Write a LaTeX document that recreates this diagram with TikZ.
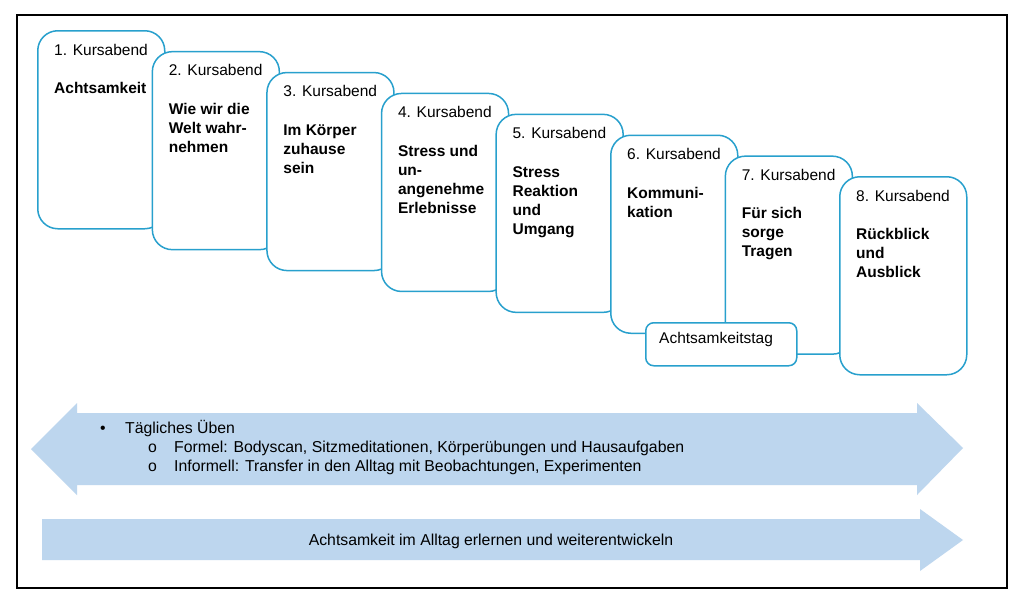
\documentclass[tikz,border=0pt]{standalone}
\usepackage{fontspec}
\setmainfont{Liberation Sans}
\usetikzlibrary{calc}
\definecolor{boxblue}{RGB}{40,160,205}
\definecolor{arrowblue}{RGB}{189,214,238}
\begin{document}
\begin{tikzpicture}[x=1pt,y=-1pt,
  kbox/.style={draw=boxblue, line width=1.5pt, fill=white, rounded corners=20pt,
    minimum width=127pt, minimum height=198pt, anchor=north west, inner sep=0pt},
  tagbox/.style={draw=boxblue, line width=1.5pt, fill=white, rounded corners=8pt,
    minimum width=151pt, minimum height=43pt, anchor=north west, inner sep=0pt},
  lbl/.style={font=\fontsize{15.5}{19}\selectfont, anchor=base west, inner sep=0pt},
  ttl/.style={font=\fontsize{15.5}{19}\selectfont\bfseries, anchor=base west, inner sep=0pt, align=left},
  atext/.style={font=\fontsize{15.8}{19}\selectfont, anchor=base west, inner sep=0pt},
  arrowshape/.style={fill=arrowblue, draw=none}
]
\useasboundingbox (0,0) rectangle (1024,605);
\fill[white] (0,0) rectangle (1024,605);
\draw[line width=2pt] (17,15) rectangle (1007,588);

% Kursabend boxes (the base anchor of a multi-line node is its last line)
\foreach \i/\n/\t in {1/1/{Achtsamkeit},
                   2/3/{Wie wir die\\Welt wahr-\\nehmen},
                   3/3/{Im Körper\\zuhause\\sein},
                   4/4/{Stress und\\un-\\angenehme\\Erlebnisse},
                   5/4/{Stress\\Reaktion\\und\\Umgang},
                   6/2/{Kommuni-\\kation},
                   7/3/{Für sich\\sorge\\Tragen}}{
  \node[kbox] (k\i) at ({37+114.6*(\i-1)},{30+20.9*(\i-1)}) {};
  \node[lbl] (k\i a) at ($(k\i.north west)+(17,25)$) {\i. Kursabend};
  \node[ttl] (k\i b) at ($(k\i.north west)+(17,{63.5+19*(\n-1)})$) {\t};
}
\node[tagbox] (tag) at (645,322) {};
\node[lbl] (taglbl) at ($(tag.north west)+(14,21.5)$) {Achtsamkeitstag};
\node[kbox] (k8) at (839,176) {};
\node[lbl] (k8a) at ($(k8.north west)+(17,25)$) {8. Kursabend};
\node[ttl] (k8b) at ($(k8.north west)+(17,{63.5+38})$) {Rückblick\\und\\Ausblick};

% double arrow
\path[arrowshape] (31,449) -- (77,403) -- (77,413) -- (917,413) -- (917,403) -- (963,448)
  -- (917,495) -- (917,485) -- (77,485) -- (77,495) -- cycle;
\node[atext] (b0) at (100,433.5) {\textbullet};
\node[atext] (l0) at (125,433.5) {Tägliches Üben};
\node[atext] (b1) at (148,452.5) {o};
\node[atext] (l1) at (174,452.5) {Formel: Bodyscan, Sitzmeditationen, Körperübungen und Hausaufgaben};
\node[atext] (b2) at (148,471.5) {o};
\node[atext] (l2) at (174,471.5) {Informell: Transfer in den Alltag mit Beobachtungen, Experimenten};

% single arrow
\path[arrowshape] (42,519) -- (920,519) -- (920,509) -- (963,540) -- (920,571) -- (920,560)
  -- (42,560) -- cycle;
\node[font=\fontsize{15.8}{19}\selectfont, anchor=base, inner sep=0pt] (bottom) at (491,545)
  {Achtsamkeit im Alltag erlernen und weiterentwickeln};
\end{tikzpicture}
\end{document}
